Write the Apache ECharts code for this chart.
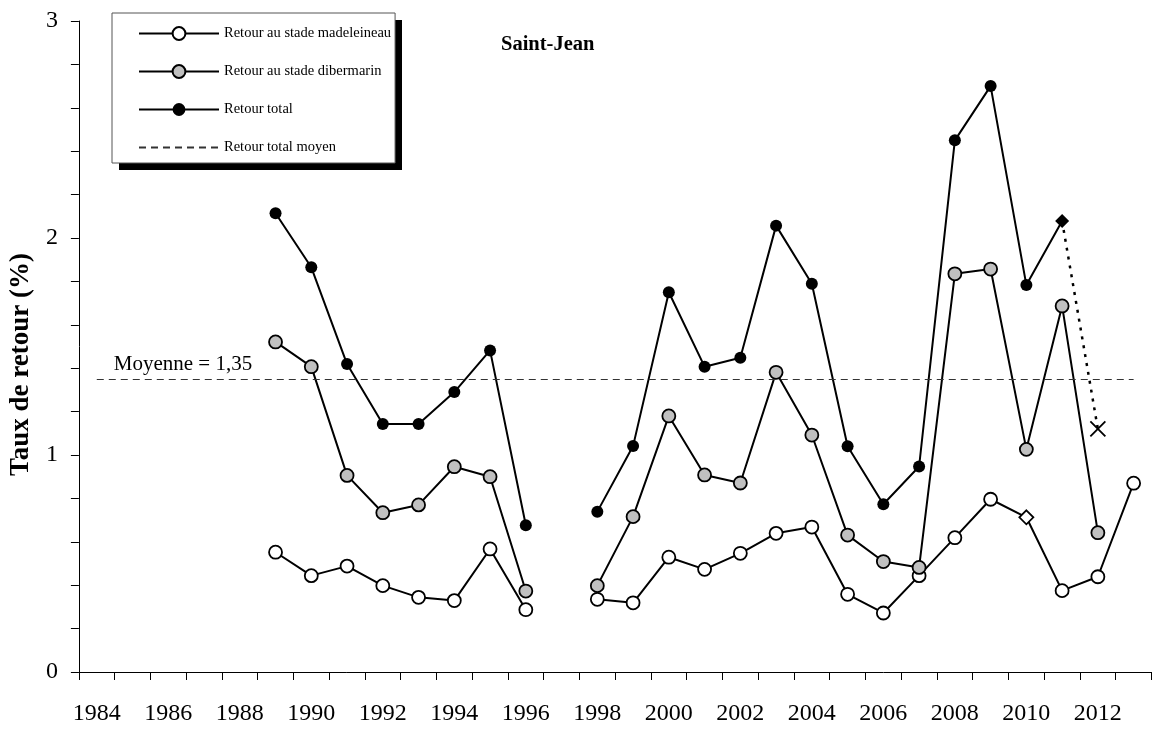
<!DOCTYPE html>
<html>
<head>
<meta charset="utf-8">
<title>Saint-Jean</title>
<script src="https://cdn.jsdelivr.net/npm/echarts@6/dist/echarts.min.js"></script>
<style>
  html, body { margin: 0; padding: 0; background: #fff; }
  #chart { width: 1153px; height: 730px; }
</style>
</head>
<body>
<div id="chart"></div>
<script>
// axe des x : 1984 -> 2013
const categories = []
for (let y = 1984; y <= 2013; y++) categories.push(String(y))

// années avec données
const years = ['1989','1990','1991','1992','1993','1994','1995','1996','1997','1998','1999','2000',
  '2001','2002','2003','2004','2005','2006','2007','2008','2009','2010','2011','2012','2013']

const madeleineau = [0.552, 0.444, 0.488, 0.398, 0.344, 0.329, 0.567, 0.287, null, 0.335, 0.319, 0.529,
  0.473, 0.547, 0.639, 0.668, 0.358, 0.272, 0.444, 0.619, 0.796, 0.713, 0.375, 0.439, 0.870]
const dibermarin = [1.521, 1.407, 0.906, 0.734, 0.770, 0.946, 0.900, 0.373, null, 0.398, 0.716, 1.180,
  0.908, 0.871, 1.381, 1.092, 0.631, 0.509, 0.482, 1.835, 1.857, 1.026, 1.687, 0.642, null]
const total = [2.114, 1.865, 1.419, 1.143, 1.143, 1.290, 1.482, 0.676, null, 0.739, 1.041, 1.750,
  1.407, 1.448, 2.057, 1.789, 1.040, 0.773, 0.947, 2.450, 2.700, 1.783, 2.078, null, null]

// points estimés (losanges) et prévision 2012
const estimeMadeleineau = '2010'
const estimeTotal = '2011'
const prevision = [['2011', 2.078], ['2012', 1.120]]

const moyenne = 1.35
const yTicks = ['0', '1', '2', '3']

const FONT = '"Liberation Serif", "Times New Roman", serif'
const crossPath = 'path://M0,0L10,10M10,0L0,10'

function build(values, estYear) {
  return years.map((y, i) => {
    const v = values[i]
    if (v === null) return [y, null]
    if (y === estYear) return { value: [y, v], symbol: 'diamond', symbolSize: 14 }
    return [y, v]
  })
}

const chart = echarts.init(document.getElementById('chart'))

const option = {
  animation: false,
  backgroundColor: '#fff',
  title: {
    text: 'Saint-Jean',
    left: 496,
    top: 29,
    textStyle: { fontFamily: FONT, fontWeight: 'bold', fontSize: 20.5, color: '#000' }
  },
  // ombre noire de la légende
  graphic: [{
    type: 'rect',
    left: 119,
    top: 20,
    z: 0,
    shape: { width: 283, height: 150 },
    style: { fill: '#000' }
  }],
  legend: {
    orient: 'vertical',
    left: 112,
    top: 13,
    z: 10,
    data: ['Retour au stade madeleineau', 'Retour au stade dibermarin', 'Retour total', 'Retour total moyen'],
    itemWidth: 80,
    itemHeight: 16,
    itemGap: 23,
    padding: [13, 4, 8, 26],
    backgroundColor: '#fff',
    borderColor: '#555',
    borderWidth: 1,
    textStyle: { fontFamily: FONT, fontSize: 14.5, color: '#000' }
  },
  grid: { left: 71.5, right: 1.5, top: 21, bottom: 58 },
  xAxis: {
    type: 'category',
    data: categories,
    boundaryGap: true,
    axisLine: { lineStyle: { color: '#000', width: 1 } },
    axisTick: { show: true, interval: 0, length: 8, lineStyle: { color: '#000' } },
    axisLabel: { interval: 1, margin: 30, fontFamily: FONT, fontSize: 24, color: '#000' },
    splitLine: { show: false }
  },
  yAxis: {
    type: 'value',
    min: 0,
    max: 3,
    interval: 0.2,
    name: 'Taux de retour (%)',
    nameLocation: 'middle',
    nameGap: 34,
    nameTextStyle: { fontFamily: FONT, fontWeight: 'bold', fontSize: 27, color: '#000', padding: [0, 36, 0, 0] },
    axisLine: { show: true, lineStyle: { color: '#000', width: 1 } },
    axisTick: { show: true, length: 8, lineStyle: { color: '#000' } },
    axisLabel: {
      margin: 21,
      fontFamily: FONT,
      fontSize: 24,
      color: '#000',
      formatter: v => {
        const r = Math.round(v)
        return Math.abs(v - r) < 1e-6 && yTicks.indexOf(String(r)) >= 0 ? String(r) : ''
      }
    },
    splitLine: { show: false }
  },
  series: [
    {
      name: 'Retour total moyen',
      type: 'line',
      data: [],
      symbol: 'none',
      itemStyle: { color: 'rgba(0,0,0,0)' },
      lineStyle: { color: '#333', width: 1, type: [7, 5] },
      markLine: {
        silent: true,
        symbol: ['none', 'none'],
        lineStyle: { color: '#333', width: 1, type: [7, 5] },
        label: {
          show: true,
          position: 'insideStartTop',
          distance: [17, 4],
          formatter: 'Moyenne = 1,35',
          fontFamily: FONT,
          fontSize: 21,
          color: '#000'
        },
        data: [[{ coord: ['1984', moyenne] }, { coord: ['2013', moyenne] }]]
      }
    },
    {
      name: 'Retour au stade madeleineau',
      type: 'line',
      data: build(madeleineau, estimeMadeleineau),
      connectNulls: false,
      symbol: 'circle',
      symbolSize: 13,
      lineStyle: { color: '#000', width: 2 },
      itemStyle: { color: '#fff', borderColor: '#000', borderWidth: 1.8 }
    },
    {
      name: 'Retour au stade dibermarin',
      type: 'line',
      data: build(dibermarin, null),
      connectNulls: false,
      symbol: 'circle',
      symbolSize: 13,
      lineStyle: { color: '#000', width: 2 },
      itemStyle: { color: '#c0c0c0', borderColor: '#000', borderWidth: 1.8 }
    },
    {
      name: 'Retour total',
      type: 'line',
      data: build(total, estimeTotal),
      connectNulls: false,
      symbol: 'circle',
      symbolSize: 12,
      lineStyle: { color: '#000', width: 2 },
      itemStyle: { color: '#000', borderColor: '#000', borderWidth: 0 }
    },
    {
      name: 'prevision',
      type: 'line',
      data: [
        { value: prevision[0], symbol: 'none' },
        { value: prevision[1], symbol: crossPath, symbolSize: 15, itemStyle: { color: 'none', borderColor: '#000', borderWidth: 1.8 } }
      ],
      lineStyle: { color: '#000', width: 2.5, type: [3, 6] },
      itemStyle: { color: '#000' },
      z: 1
    }
  ]
}

chart.setOption(option)
</script>
</body>
</html>
